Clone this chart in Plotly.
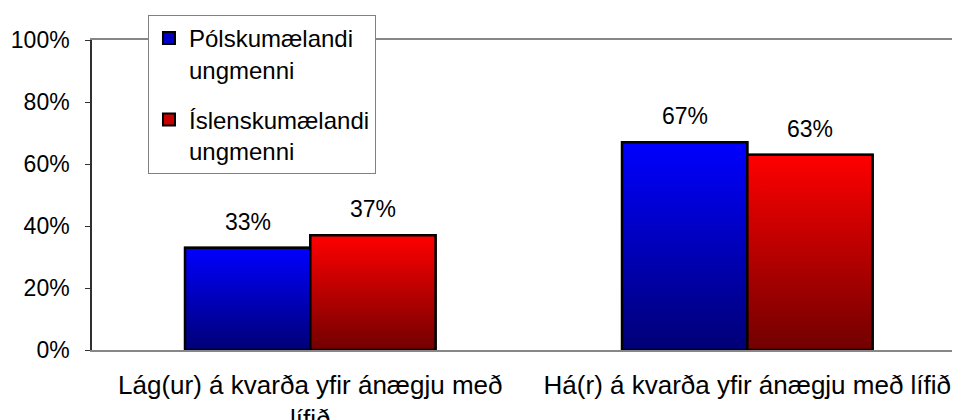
import plotly.graph_objects as go

categories = ["Lág(ur) á kvarða yfir ánægju með<br>lífið",
              "Há(r) á kvarða yfir ánægju með lífið"]
series_names = ["Pólskumælandi<br>ungmenni", "Íslenskumælandi<br>ungmenni"]
polish_values = [33, 67]
icelandic_values = [37, 63]
value_labels_polish = ["33%", "67%"]
value_labels_icelandic = ["37%", "63%"]
y_tick_values = [0, 20, 40, 60, 80, 100]
y_tick_labels = ["0%", "20%", "40%", "60%", "80%", "100%"]

series = [
    (series_names[0], polish_values, value_labels_polish, "#0000ff", "#000076", "#0000c8"),
    (series_names[1], icelandic_values, value_labels_icelandic, "#ff0000", "#720000", "#c80000"),
]

BAR_W = 0.2867
FONT = "Liberation Sans, Arial, sans-serif"
xpos = list(range(len(categories)))

fig = go.Figure()
annotations = []
for k, (name, vals, labels, top_c, bot_c, mid_c) in enumerate(series):
    offsets = [x - BAR_W + k * BAR_W for x in xpos]
    # real bar trace (for data + legend)
    fig.add_trace(go.Bar(
        x=[o + BAR_W / 2 for o in offsets], y=vals, width=BAR_W, name=name,
        marker=dict(color=mid_c, line=dict(color="black", width=2)),
        legendgroup=f"g{k}", hoverinfo="skip"))
    # gradient overlay for each bar
    for o, v, lab in zip(offsets, vals, labels):
        fig.add_trace(go.Scatter(
            x=[o, o + BAR_W, o + BAR_W, o, o], y=[0, 0, v, v, 0],
            mode="lines", fill="toself",
            fillgradient=dict(type="vertical", colorscale=[[0, bot_c], [1, top_c]],
                              start=0, stop=v),
            line=dict(color="black", width=2.5), showlegend=False, hoverinfo="skip",
            legendgroup=f"g{k}"))
        annotations.append(dict(x=o + BAR_W / 2, y=v, xref="x", yref="y", text=lab,
                                showarrow=False, yanchor="bottom", yshift=11,
                                font=dict(size=23, color="black", family=FONT)))

fig.update_layout(
    width=960, height=420,
    margin=dict(l=84, r=0, t=32, b=78, autoexpand=False),
    paper_bgcolor="white", plot_bgcolor="white",
    font=dict(family=FONT, color="black"),
    barmode="overlay",
    showlegend=True,
    legend=dict(x=0.0639, y=1.0806, xanchor="left", yanchor="top",
                bgcolor="white", bordercolor="#808080", borderwidth=1,
                font=dict(size=24, family=FONT, color="black"),
                valign="top", tracegroupgap=16, traceorder="grouped"),
    annotations=annotations,
)
fig.update_xaxes(range=[-0.4995, 1.505], tickvals=xpos, ticktext=categories,
                 showline=True, mirror=True, linecolor="#878787", linewidth=2,
                 ticks="", showgrid=False, zeroline=False, automargin=False,
                 layer="above traces",
                 tickfont=dict(size=26, family=FONT, color="black"),
                 ticklabelstandoff=11)
fig.update_yaxes(range=[0, 100], tickvals=y_tick_values, ticktext=y_tick_labels,
                 showline=True, linecolor="#303030", linewidth=1.5,
                 ticks="outside", ticklen=5, tickcolor="#303030", tickwidth=1,
                 showgrid=False, zeroline=False, automargin=False,
                 tickfont=dict(size=23, family=FONT, color="black"),
                 ticklabelstandoff=11)

fig.write_html("out.html")
